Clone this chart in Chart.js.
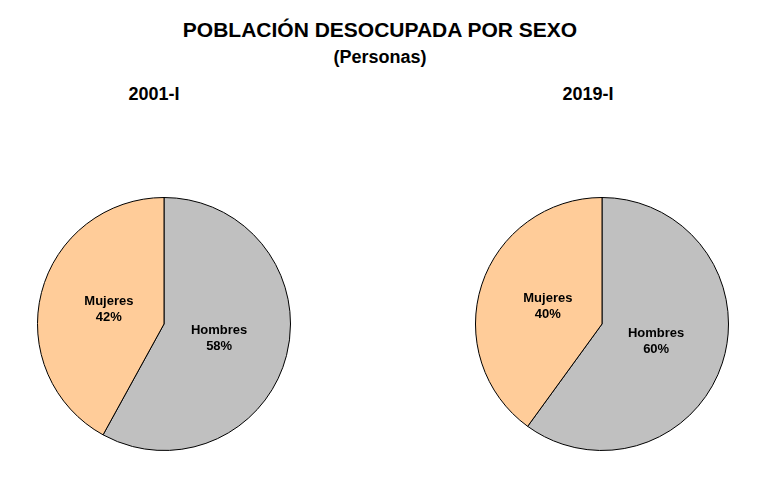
<!DOCTYPE html>
<html lang="es">
<head>
    <meta charset="UTF-8">
    <title>Población desocupada por sexo</title>
    <script src="https://cdn.jsdelivr.net/npm/chart.js"></script>
    <style>
        body {
            font-family: 'Liberation Sans', Arial, sans-serif;
            margin: 0;
            background: white;
        }

        .page {
            position: relative;
            width: 760px;
            height: 489px;
            overflow: hidden;
        }

        .txt {
            position: absolute;
            font-weight: bold;
            line-height: 1;
            white-space: nowrap;
            color: #000;
            transform: translateX(-50%);
        }

        .pie {
            position: absolute;
            width: 254px;
            height: 254px;
        }
    </style>
</head>
<body>
    <div class="page">
        <div class="txt" style="left:380px; top:19px; font-size:21px;">POBLACIÓN DESOCUPADA POR SEXO</div>
        <div class="txt" style="left:380px; top:48px; font-size:18px;">(Personas)</div>
        <div class="txt" style="left:154px; top:85px; font-size:18px;">2001-I</div>
        <div class="txt" style="left:588px; top:85px; font-size:18px;">2019-I</div>

        <div class="pie" style="left:37px; top:197px;"><canvas id="pie2001" width="254" height="254"></canvas></div>
        <div class="pie" style="left:475px; top:197px;"><canvas id="pie2019" width="254" height="254"></canvas></div>
    </div>

    <script>
        // data (percent of unemployed population)
        const categories = ['Hombres', 'Mujeres'];
        const values2001 = [58, 42];
        const values2019 = [60, 40];
        const colors = ['#C0C0C0', '#FFCC99'];

        // draws "Label\nNN%" inside each slice
        const sliceLabels = {
            id: 'sliceLabels',
            afterDatasetsDraw(chart) {
                const ctx = chart.ctx;
                const meta = chart.getDatasetMeta(0);
                const data = chart.data.datasets[0].data;
                ctx.save();
                ctx.font = 'bold 13px "Liberation Sans", Arial, sans-serif';
                ctx.fillStyle = '#000';
                ctx.textAlign = 'center';
                ctx.textBaseline = 'middle';
                meta.data.forEach((arc, i) => {
                    const p = arc.getProps(['x', 'y', 'startAngle', 'endAngle', 'outerRadius'], true);
                    const mid = (p.startAngle + p.endAngle) / 2;
                    const r = p.outerRadius * 0.45;
                    const x = p.x + Math.cos(mid) * r;
                    const y = p.y + Math.sin(mid) * r;
                    ctx.fillText(chart.data.labels[i], x, y - 8);
                    ctx.fillText(data[i] + '%', x, y + 8);
                });
                ctx.restore();
            }
        };

        function makePie(id, values) {
            return new Chart(document.getElementById(id), {
                type: 'pie',
                data: {
                    labels: categories,
                    datasets: [{
                        data: values,
                        backgroundColor: colors,
                        borderColor: '#000',
                        borderWidth: 1
                    }]
                },
                options: {
                    responsive: false,
                    animation: false,
                    plugins: {
                        legend: { display: false },
                        tooltip: { enabled: false }
                    }
                },
                plugins: [sliceLabels]
            });
        }

        makePie('pie2001', values2001);
        makePie('pie2019', values2019);
    </script>
</body>
</html>
